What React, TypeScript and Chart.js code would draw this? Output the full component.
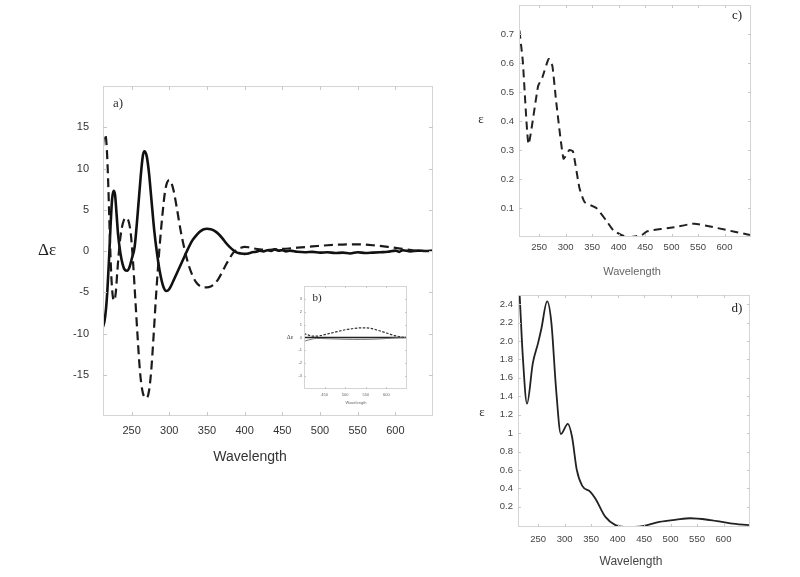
import React, { useEffect, useRef } from 'react';
import { Chart, registerables } from 'chart.js';
Chart.register(...registerables);

// ---------- Panel a) CD spectra ----------
const cdSolidWl = [212, 214, 216, 218, 220, 222, 224, 226, 228, 230, 232, 235, 238, 241, 244, 247, 250, 254, 258, 262, 265, 267, 270, 273, 276, 280, 284, 288, 292, 296, 300, 305, 310, 315, 320, 325, 330, 335, 340, 345, 350, 355, 360, 365, 370, 375, 380, 385, 390, 395, 400, 405, 410, 415, 420, 425, 430, 435, 440, 445, 450, 455, 460, 470, 480, 490, 500, 510, 520, 530, 540, 550, 560, 570, 580, 590, 600, 605, 610, 620, 630, 640, 650];
const cdSolid = [-9.2, -8.5, -7.0, -4.5, -1.0, 3.0, 6.2, 7.3, 6.8, 4.5, 2.0, -0.2, -1.6, -2.3, -2.4, -2.0, -1.0, 0.5, 4.5, 9.0, 11.6, 12.1, 11.5, 9.5, 6.5, 2.5, -0.5, -2.8, -4.3, -4.85, -4.6, -3.7, -2.7, -1.7, -0.7, 0.3, 1.2, 1.8, 2.3, 2.6, 2.7, 2.65, 2.45, 2.1, 1.6, 1.0, 0.5, 0.1, -0.2, -0.3, -0.35, -0.3, -0.15, -0.1, 0.05, -0.05, 0.1, 0.0, 0.2, 0.05, 0.1, -0.05, 0.05, -0.1, -0.15, -0.1, -0.2, -0.15, -0.25, -0.2, -0.3, -0.15, -0.25, -0.2, -0.15, -0.1, 0.05, -0.1, 0.1, -0.05, 0.05, 0.0, 0.05];

const cdDashedWl = [212, 213, 215, 217, 219, 221, 223, 225, 227, 229, 231, 234, 237, 240, 243, 246, 249, 252, 255, 258, 261, 264, 267, 270, 273, 276, 279, 282, 285, 288, 291, 294, 297, 300, 303, 306, 310, 315, 320, 325, 330, 335, 340, 345, 350, 355, 360, 365, 370, 375, 380, 385, 390, 395, 400, 405, 410, 420, 430, 440, 450, 470, 490, 510, 530, 550, 570, 590, 610, 625, 640, 650];
const cdDashed = [12.7, 13.8, 14.1, 12.5, 8.0, 2.0, -3.0, -5.5, -6.0, -5.0, -2.5, 0.8, 2.8, 3.8, 4.0, 3.6, 2.0, -1.5, -6.0, -10.5, -14.5, -16.8, -17.7, -17.8, -17.0, -14.5, -10.5, -6.0, -2.0, 1.5, 4.5, 7.0, 8.3, 8.6, 8.2, 7.2, 5.2, 2.5, 0.3, -1.5, -2.8, -3.7, -4.2, -4.4, -4.4, -4.3, -4.0, -3.4, -2.6, -1.7, -0.9, -0.2, 0.2, 0.4, 0.5, 0.45, 0.35, 0.2, 0.15, 0.2, 0.25, 0.4, 0.55, 0.7, 0.78, 0.8, 0.7, 0.5, 0.25, 0.05, 0.0, 0.0];

const xTickValues = [250, 300, 350, 400, 450, 500, 550, 600];
const yTicksA = [-15, -10, -5, 0, 5, 10, 15];

// ---------- Panel b) inset ----------
const insetWl = [400, 410, 420, 430, 440, 460, 480, 500, 520, 540, 560, 580, 600, 620, 640, 650];
const insetDashed = [0.3, 0.2, 0.1, 0.1, 0.15, 0.3, 0.45, 0.6, 0.7, 0.75, 0.72, 0.55, 0.35, 0.15, 0.02, 0.0];
const insetSolid1 = [0.0, 0.0, 0.0, 0.0, 0.0, 0.0, 0.0, 0.0, 0.0, 0.0, 0.0, 0.0, 0.0, 0.0, 0.0, 0.0];
const insetSolid2 = [-0.3, -0.2, -0.12, -0.08, -0.08, -0.1, -0.12, -0.14, -0.15, -0.15, -0.14, -0.12, -0.08, -0.04, -0.01, 0.0];
const xTicksB = [450, 500, 550, 600];
const yTicksB = [-3, -2, -1, 0, 1, 2, 3];

// ---------- Panel c) absorption (dashed) ----------
const absCWl = [210, 219, 230, 248, 256, 268, 275, 282, 296, 307, 314, 326, 336, 358, 377, 390, 406, 422, 444, 454, 505, 543, 581, 619, 648];
const absC = [0.756, 0.61, 0.32, 0.52, 0.55, 0.614, 0.59, 0.47, 0.27, 0.30, 0.295, 0.17, 0.12, 0.10, 0.056, 0.023, 0.006, 0.0, 0.007, 0.02, 0.034, 0.046, 0.033, 0.018, 0.007];
const yTicksC = [0.1, 0.2, 0.3, 0.4, 0.5, 0.6, 0.7];

// ---------- Panel d) absorption (solid) ----------
const absDWl = [212, 215, 221, 229, 240, 250, 256, 267, 275, 284, 293, 306, 314, 323, 333, 349, 358, 377, 396, 412, 447, 479, 511, 537, 575, 613, 648];
const absD = [2.8, 2.51, 1.84, 1.32, 1.76, 1.98, 2.13, 2.43, 2.2, 1.47, 0.99, 1.10, 0.96, 0.60, 0.43, 0.36, 0.29, 0.09, 0.0, -0.02, -0.01, 0.036, 0.06, 0.075, 0.055, 0.02, 0.0];
const yTicksD = [0.2, 0.4, 0.6, 0.8, 1, 1.2, 1.4, 1.6, 1.8, 2.0, 2.2, 2.4];
const yLabelsD = ['0.2', '0.4', '0.6', '0.8', '1', '1.2', '1.4', '1.6', '1.8', '2.0', '2.2', '2.4'];

const SANS = '"Liberation Sans", Arial, Helvetica, sans-serif';
const SERIF = '"Liberation Serif", "Times New Roman", serif';

const pts = (xs: number[], ys: number[]) => xs.map((x, i) => ({ x, y: ys[i] }));

const framePlugin = {
  id: 'frame',
  afterDatasetsDraw(chart: any, _args: any, o: any) {
    const { ctx, chartArea } = chart;
    const { left, right, top, bottom } = chartArea;
    ctx.save();
    ctx.strokeStyle = o.color || '#d4d4d4';
    ctx.lineWidth = 1;
    ctx.strokeRect(Math.round(left) + 0.5, Math.round(top) + 0.5, Math.round(right - left) - 1, Math.round(bottom - top) - 1);
    const L = o.tick || 4;
    ctx.strokeStyle = o.tickColor || '#c8c8c8';
    ctx.beginPath();
    const xs = chart.scales.x, ys = chart.scales.y;
    for (const t of xs.ticks) {
      const px = Math.round(xs.getPixelForValue(t.value)) + 0.5;
      ctx.moveTo(px, bottom); ctx.lineTo(px, bottom - L);
      ctx.moveTo(px, top); ctx.lineTo(px, top + L);
    }
    for (const t of ys.ticks) {
      const py = Math.round(ys.getPixelForValue(t.value)) + 0.5;
      ctx.moveTo(left, py); ctx.lineTo(left + L, py);
      ctx.moveTo(right, py); ctx.lineTo(right - L, py);
    }
    ctx.stroke();
    ctx.restore();
  },
  afterDraw(chart: any, _args: any, o: any) {
    const { ctx } = chart;
    ctx.save();
    for (const t of o.texts || []) {
      ctx.font = t.font;
      ctx.fillStyle = t.color || '#222';
      ctx.textAlign = t.align || 'center';
      ctx.textBaseline = 'middle';
      ctx.fillText(t.text, t.x, t.y);
    }
    ctx.restore();
  },
};

type Rect = { x: number; y: number; w: number; h: number };
type Area = { l: number; t: number; r: number; b: number };

function makeConfig(p: any) {
  const rect: Rect = p.rect, area: Area = p.area;
  return {
    type: 'line',
    data: { datasets: p.datasets },
    plugins: [framePlugin],
    options: {
      responsive: false,
      animation: false,
      events: [],
      layout: { padding: { left: 0, top: area.t - rect.y, right: rect.x + rect.w - area.r, bottom: 0 } },
      elements: { point: { radius: 0 }, line: { cubicInterpolationMode: 'monotone' } },
      plugins: {
        legend: { display: false },
        tooltip: { enabled: false },
        frame: {
          tick: p.tickLen,
          texts: p.texts.map((t: any) => ({ ...t, x: t.x - rect.x, y: t.y - rect.y })),
        },
      },
      scales: {
        x: {
          type: 'linear',
          min: p.xMin,
          max: p.xMax,
          afterBuildTicks: (s: any) => { s.ticks = p.xTicks.map((v: number) => ({ value: v })); },
          afterFit: (s: any) => { s.height = rect.y + rect.h - area.b; s.paddingLeft = 0; s.paddingRight = 0; },
          grid: { display: false, drawTicks: false },
          border: { display: false },
          ticks: {
            autoSkip: false, maxRotation: 0, padding: p.xPad,
            color: p.tickColor || '#333',
            font: { family: SANS, size: p.tickSize },
            callback: (v: number) => String(v),
          },
        },
        y: {
          type: 'linear',
          min: p.yMin,
          max: p.yMax,
          afterBuildTicks: (s: any) => { s.ticks = p.yTicks.map((v: number) => ({ value: v })); },
          afterFit: (s: any) => { s.width = area.l - rect.x; s.paddingTop = 0; s.paddingBottom = 0; },
          grid: { display: false, drawTicks: false },
          border: { display: false },
          ticks: {
            autoSkip: false, padding: p.yPad,
            color: p.tickColor || '#333',
            font: { family: SANS, size: p.tickSize },
            callback: p.yLabel || ((v: number) => String(v)),
          },
        },
      },
    },
  };
}

function Panel({ rect, build }: { rect: Rect; build: () => any }) {
  const ref = useRef<HTMLCanvasElement>(null);
  useEffect(() => {
    const chart = new Chart(ref.current as HTMLCanvasElement, build() as any);
    return () => chart.destroy();
  }, []);
  return (
    <canvas
      ref={ref}
      width={rect.w}
      height={rect.h}
      style={{ position: 'absolute', left: rect.x, top: rect.y, width: rect.w, height: rect.h }}
    />
  );
}

const rectA: Rect = { x: 0, y: 60, w: 450, h: 420 };
const rectB: Rect = { x: 278, y: 278, w: 136, h: 132 };
const rectC: Rect = { x: 460, y: 0, w: 300, h: 282 };
const rectD: Rect = { x: 460, y: 286, w: 300, h: 291 };

const buildA = () => makeConfig({
  rect: rectA,
  area: { l: 103, t: 86, r: 433, b: 416 },
  xMin: 212, xMax: 650, yMin: -20, yMax: 20,
  xTicks: xTickValues, yTicks: yTicksA,
  tickSize: 11, xPad: 8, yPad: 14, tickLen: 4,
  datasets: [
    { data: pts(cdDashedWl, cdDashed), borderColor: '#1a1a1a', borderWidth: 2.2, borderDash: [9, 5], fill: false },
    { data: pts(cdSolidWl, cdSolid), borderColor: '#111', borderWidth: 2.6, fill: false },
  ],
  texts: [
    { text: 'Δε', x: 47, y: 251, font: `17px ${SERIF}`, color: '#222' },
    { text: 'Wavelength', x: 250, y: 457, font: `14px ${SANS}`, color: '#333' },
    { text: 'a)', x: 118, y: 104, font: `13px ${SERIF}`, color: '#333' },
  ],
});

const buildB = () => makeConfig({
  rect: rectB,
  area: { l: 304, t: 286, r: 407, b: 389 },
  xMin: 400, xMax: 650, yMin: -4, yMax: 4,
  xTicks: xTicksB, yTicks: yTicksB,
  tickSize: 4, xPad: 3, yPad: 2, tickLen: 2,
  tickColor: '#666',
  datasets: [
    { data: pts(insetWl, insetDashed), borderColor: '#333', borderWidth: 1.2, borderDash: [2.5, 1.5], fill: false },
    { data: pts(insetWl, insetSolid2), borderColor: '#777', borderWidth: 1, fill: false },
    { data: pts(insetWl, insetSolid1), borderColor: '#222', borderWidth: 1.6, fill: false },
  ],
  texts: [
    { text: 'Δε', x: 290, y: 337, font: `6px ${SERIF}`, color: '#333' },
    { text: 'Wavelength', x: 356, y: 403, font: `4px ${SANS}`, color: '#666' },
    { text: 'b)', x: 317, y: 298, font: `11px ${SERIF}`, color: '#222' },
  ],
});

const buildC = () => makeConfig({
  rect: rectC,
  area: { l: 519, t: 5, r: 751, b: 237 },
  xMin: 212, xMax: 650, yMin: 0, yMax: 0.8,
  xTicks: xTickValues, yTicks: yTicksC,
  tickSize: 9.5, xPad: 5, yPad: 5, tickLen: 3,
  tickColor: '#444',
  datasets: [
    { data: pts(absCWl, absC), borderColor: '#222', borderWidth: 2, borderDash: [8, 5], fill: false, cubicInterpolationMode: 'default', tension: 0.15 },
  ],
  texts: [
    { text: 'ε', x: 481, y: 120, font: `13px ${SERIF}`, color: '#333' },
    { text: 'Wavelength', x: 632, y: 272, font: `11px ${SANS}`, color: '#666' },
    { text: 'c)', x: 737, y: 16, font: `13px ${SERIF}`, color: '#222' },
  ],
});

const buildD = () => makeConfig({
  rect: rectD,
  area: { l: 518, t: 295, r: 750, b: 527 },
  xMin: 212, xMax: 650, yMin: -0.02, yMax: 2.5,
  xTicks: xTickValues, yTicks: yTicksD,
  yLabel: (_v: number, i: number) => yLabelsD[i],
  tickSize: 9.5, xPad: 7, yPad: 5, tickLen: 3,
  tickColor: '#444',
  datasets: [
    { data: pts(absDWl, absD), borderColor: '#222', borderWidth: 1.8, fill: false },
  ],
  texts: [
    { text: 'ε', x: 482, y: 413, font: `13px ${SERIF}`, color: '#333' },
    { text: 'Wavelength', x: 631, y: 562, font: `12px ${SANS}`, color: '#444' },
    { text: 'd)', x: 737, y: 309, font: `13px ${SERIF}`, color: '#222' },
  ],
});

export default function App() {
  return (
    <div style={{ position: 'fixed', left: 0, top: 0, width: 800, height: 577, background: '#fff', overflow: 'hidden' }}>
      <Panel rect={rectA} build={buildA} />
      <Panel rect={rectB} build={buildB} />
      <Panel rect={rectC} build={buildC} />
      <Panel rect={rectD} build={buildD} />
    </div>
  );
}
